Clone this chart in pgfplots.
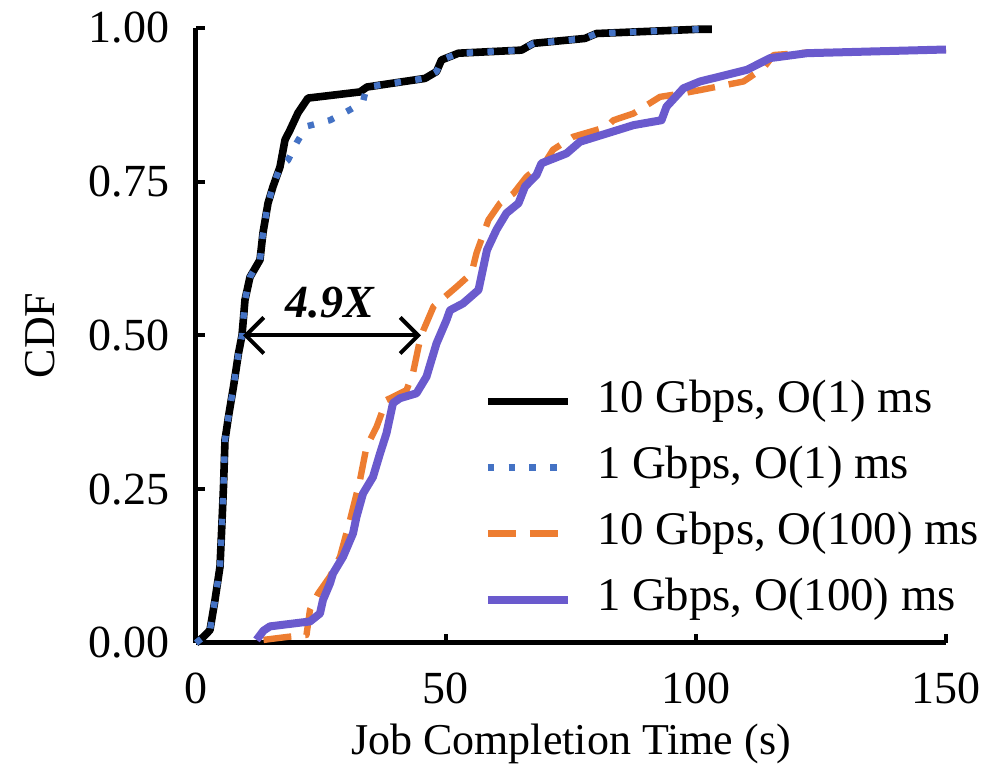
\documentclass[border=0pt]{standalone}
\usepackage{pgfplots}
\pgfplotsset{compat=1.18}
\usepackage{fontspec}
\setmainfont{Liberation Serif}
\usetikzlibrary{arrows.meta}
\definecolor{cblue}{RGB}{68,114,196}
\definecolor{corange}{RGB}{237,125,49}
\definecolor{cpurple}{RGB}{106,90,205}
\begin{document}
\begin{tikzpicture}
\begin{axis}[
  at={(0,0)}, anchor=south west,
  width=187.5pt, height=153.75pt, scale only axis,
  xmin=0, xmax=150, ymin=0, ymax=1,
  axis x line*=bottom, axis y line*=left,
  axis line style={line width=1.25pt},
  xtick={0,50,100,150}, ytick={0,0.25,0.5,0.75,1},
  tick align=inside, major tick length=2.2pt,
  tick style={line width=1pt, black},
  /pgf/number format/assume math mode=true,
  tick label style={font=\fontsize{11.5}{13}\selectfont},
  yticklabel style={/pgf/number format/fixed, /pgf/number format/fixed zerofill, /pgf/number format/precision=2, anchor=east, inner sep=0pt, xshift=-6.5pt},
  xticklabel style={anchor=base, inner sep=0pt, yshift=-15.25pt},
  xlabel={Job Completion Time (s)},
  ylabel={CDF},
  label style={font=\fontsize{11}{13}\selectfont},
  xlabel style={at={(axis description cs:0.5,0)}, anchor=base, inner sep=0pt, yshift=-28pt},
  ylabel style={at={(axis description cs:-0.208,0.5)}, anchor=center, inner sep=0pt},
  clip=false,
  legend cell align=left,
  legend style={at={(axis cs:57.4,0.428)}, anchor=north west, draw=none, fill=none, inner sep=0pt,
    font=\fontsize{11.7}{13}\selectfont, row sep=6pt,
    nodes={inner sep=0pt, text height=8pt, text depth=2.5pt}},
  legend image code/.code={\draw[#1] (0pt,0pt) -- (20pt,0pt); \path[draw=none, fill=none] (27.3pt,0pt) circle (0.01pt);},
  every axis plot/.append style={line join=round},
]
\addplot[black, line width=1.9pt] coordinates {
(0,0) (1.5,0.01) (2.8,0.021) (3.8,0.07) (4.8,0.124) (5.1,0.178) (5.5,0.254) (5.8,0.33) (6.5,0.368) (7.5,0.417) (8.5,0.471) (9.2,0.50) (9.8,0.558) (10.8,0.595) (12.8,0.623) (13.4,0.667) (14.4,0.715) (15.4,0.742) (16.8,0.774) (17.8,0.818) (18.8,0.834) (20.4,0.862) (22.4,0.886) (32.8,0.896) (34.2,0.904) (40.8,0.912) (45.8,0.918) (48.1,0.929) (49.1,0.948) (52.5,0.959) (65.1,0.964) (67.5,0.975) (77.8,0.983) (80.1,0.991) (100.8,0.998) (103.2,0.998)
};
\addlegendentry{10 Gbps, O(1) ms}
\addplot[cblue, line width=1.6pt, dash pattern=on 1.6pt off 3.6pt] coordinates {
(0,0) (1.5,0.01) (2.8,0.021) (3.8,0.07) (4.8,0.124) (5.1,0.178) (5.5,0.254) (5.8,0.33) (6.5,0.368) (7.5,0.417) (8.5,0.471) (9.2,0.50) (9.8,0.558) (10.8,0.595) (12.8,0.623) (13.4,0.667) (14.4,0.715) (15.4,0.742) (16.8,0.774) (18.4,0.785) (20.1,0.813) (22.1,0.84) (26.8,0.85) (30.8,0.867) (33.4,0.88) (34.0,0.90) (34.2,0.904) (40.8,0.912) (45.8,0.918) (48.1,0.929) (49.1,0.948) (52.5,0.959) (65.1,0.964) (67.5,0.975) (77.8,0.983) (80.1,0.991) (100.8,0.998) (103.2,0.998)
};
\addlegendentry{1 Gbps, O(1) ms}
\addplot[corange, line width=1.6pt, dash pattern=on 7pt off 3.5pt] coordinates {
(13.5,0.005) (18.4,0.01) (22.1,0.013) (22.8,0.054) (24.4,0.08) (26.8,0.108) (28.8,0.14) (30.8,0.2) (32.8,0.265) (34.1,0.319) (36.1,0.351) (38.1,0.395) (42.1,0.411) (43.4,0.439) (44.8,0.493) (45.5,0.509) (47.5,0.547) (52.1,0.579) (55.1,0.601) (56.1,0.634) (58.5,0.688) (60.8,0.715) (63.5,0.731) (66.1,0.758) (70.1,0.785) (71.4,0.802) (75.4,0.823) (82.1,0.839) (83.5,0.85) (87.5,0.861) (92.8,0.888) (97.5,0.894) (100.8,0.899) (109.5,0.913) (113.5,0.935) (115.5,0.956) (122.2,0.96) (150,0.965)
};
\addlegendentry{10 Gbps, O(100) ms}
\addplot[cpurple, line width=2pt] coordinates {
(12.1,0.005) (13.5,0.02) (14.8,0.027) (22.8,0.035) (24.8,0.048) (25.4,0.07) (26.8,0.097) (27.4,0.113) (29.4,0.14) (31.4,0.178) (32.1,0.205) (33.4,0.243) (35.4,0.27) (36.8,0.308) (38.1,0.341) (39.4,0.39) (40.8,0.398) (44.1,0.406) (46.1,0.433) (48.1,0.487) (50.1,0.525) (50.8,0.541) (53.4,0.552) (56.5,0.574) (58.2,0.639) (60.1,0.672) (62.1,0.699) (64.5,0.715) (65.8,0.742) (68.1,0.761) (69.1,0.78) (74.1,0.796) (76.8,0.815) (87.5,0.842) (93.1,0.85) (94.1,0.872) (97.5,0.902) (100.8,0.913) (110.2,0.932) (114.8,0.951) (122.2,0.959) (150,0.965)
};
\addlegendentry{1 Gbps, O(100) ms}
\addplot[black, line width=1pt, {Straight Barb[length=4.5pt, width=9pt, line width=1pt]}-{Straight Barb[length=4.5pt, width=9pt, line width=1pt]}, forget plot] coordinates {(9.4,0.5) (45.0,0.5)};
\node[font=\fontsize{11.5}{13}\selectfont\bfseries\itshape, anchor=base] at (axis cs:26.8,0.53) {4.9X};
\end{axis}
\pgfresetboundingbox
\path (-49pt,-30.75pt) rectangle (197.75pt,160.75pt);
\end{tikzpicture}
\end{document}
